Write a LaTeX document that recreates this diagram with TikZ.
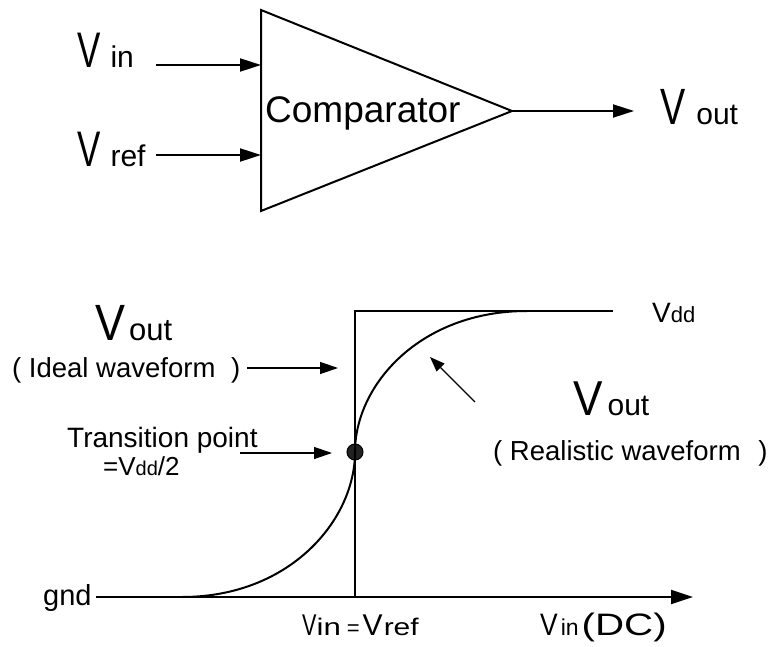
\documentclass[tikz,border=0pt]{standalone}
\usepackage{fontspec}
\setmainfont{Liberation Sans}
\usetikzlibrary{positioning,arrows.meta}
\definecolor{dotgray}{HTML}{222222}
\newcommand{\fs}[1]{\fontsize{#1}{#1}\selectfont}
\newcommand{\vlab}[5][1]{{\fs{#2}\scalebox{#1}[1]{V}}\hspace{#5}{\fs{#3}#4}}

\begin{document}
\begin{tikzpicture}[
  x=1pt, y=-1pt,
  lbl/.style={inner sep=0pt, anchor=base west},
  wire/.style={line width=2pt},
  arr/.style={-{Triangle[length=21pt,width=13pt]}, line width=2pt},
  pin/.style={-{Triangle[length=18pt,width=12pt]}, line width=1.3pt}
]
\useasboundingbox (0,0) rectangle (773,647);

\coordinate (top) at (261,10);
\coordinate (bot) at (261,211);
\coordinate (apex) at (512,111);
\draw[wire, line join=miter] (top) -- (apex) -- (bot) -- cycle;
\node[lbl] (cmp) at (265,123) {\fs{37}Comparator};

\node[lbl] (vin) at (77,68) {\vlab[0.7]{50}{30}{in}{10pt}};
\node[lbl] (vref) at (77,167) {\vlab[0.7]{50}{30}{ref}{10pt}};
\node[lbl] (vout) at (660,125) {\vlab[0.74]{51}{30}{out}{11pt}};
\coordinate (inS) at (156,65);
\coordinate (inE) at (261,65);
\coordinate (refS) at (156,155);
\coordinate (refE) at (261,155);
\coordinate (outE) at (634,111);
\draw[arr] (inS) -- (inE);
\draw[arr] (refS) -- (refE);
\draw[arr] (apex) -- (outE);

\coordinate (o) at (96,597);
\coordinate (xend) at (693,597);
\coordinate (stepB) at (355,597);
\coordinate (stepT) at (355,311);
\coordinate (vddE) at (613,311);
\coordinate (cs) at (182,597);
\coordinate (ce) at (527,311);
\draw[arr, -{Triangle[length=22pt,width=14pt]}] (o) -- (xend);
\draw[wire] (stepB) -- (stepT) -- (vddE);
\node[circle, draw=black, fill=dotgray, line width=1pt, minimum size=16pt, inner sep=0pt] (tp) at (355,452) {};
\draw[wire] (cs) .. controls (290,597) and (355,520) .. (tp.center)
  .. controls (355,385) and (420,311) .. (ce);

\node[lbl] (gnd) at (43,605) {\fs{29}gnd};
\node[lbl] (vdd) at (652,322) {\vlab{28}{22}{dd}{0pt}};
\node[lbl] (voutI) at (95,340) {\vlab[0.88]{51}{31}{out}{4pt}};
\node[lbl] (ideal) at (12,377) {\fs{27.5}( Ideal waveform\hspace{8pt} )};
\node[lbl] (trans) at (67,447) {\fs{28}Transition point};
\node[lbl] (half) at (103,475) {\fs{26}=\vlab{26}{20}{dd}{0pt}\fs{26}/2};
\node[lbl] (voutR) at (573,415) {\vlab[0.9]{49}{30}{out}{5pt}};
\node[lbl] (real) at (493,460) {\fs{27.5}( Realistic waveform\hspace{10pt} )};
\node[lbl] (eq) at (302,635) {\vlab[0.72]{30}{24}{\scalebox{1.3}[1]{in}}{0pt}\hspace{6pt}{\fs{22}=}\hspace{3pt}\vlab{30}{24}{\scalebox{1.25}[1]{ref}}{1pt}};
\node[lbl] (dc) at (540,635) {\vlab[0.85]{31}{23}{in}{3pt}\hspace{3pt}{\fs{31}\scalebox{1.3}[1]{(DC)}}};

\coordinate (idS) at (247,368);
\coordinate (idE) at (338,368);
\coordinate (trS) at (240,453);
\coordinate (trE) at (332,453);
\coordinate (reS) at (475,402);
\coordinate (reE) at (430,357);
\draw[pin] (idS) -- (idE);
\draw[pin] (trS) -- (trE);
\draw[pin, -{Triangle[length=15pt,width=11pt]}] (reS) -- (reE);
\end{tikzpicture}
\end{document}
